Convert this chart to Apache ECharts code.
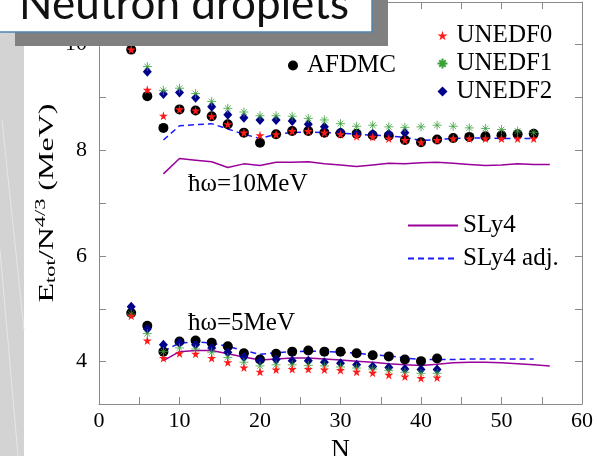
<!DOCTYPE html>
<html><head><meta charset="utf-8">
<script src="https://cdn.jsdelivr.net/npm/echarts@6.0.0/dist/echarts.min.js"></script>
<style>html,body{margin:0;padding:0;background:#fff;}#c{width:597px;height:456px;}</style>
</head><body><div id="c"></div>
<script>
// ---- data ----
const nUp = [4,6,8,10,12,14,16,18,20,22,24,26,28,30,32,34,36,38,40,42,44,46,48,50,52,54];
const afdmcUp  = [9.90,9.02,8.42,8.77,8.75,8.64,8.49,8.33,8.14,8.30,8.36,8.36,8.33,8.32,8.31,8.28,8.27,8.19,8.15,8.20,8.23,8.25,8.26,8.28,8.30,8.31];
const unedf0Up = [9.90,9.14,8.65,8.77,8.75,8.64,8.49,8.33,8.28,8.30,8.36,8.36,8.33,8.30,8.26,8.25,8.22,8.19,8.15,8.19,8.22,8.22,8.22,8.22,8.22,8.22];
const unedf1Up = [null,9.58,9.13,9.17,9.07,8.92,8.79,8.72,8.65,8.65,8.64,8.60,8.57,8.50,8.45,8.47,8.44,8.43,8.44,8.47,8.45,8.42,8.41,8.39,8.36,8.33];
const unedf2Up = [null,9.48,9.06,9.09,8.99,8.82,8.67,8.61,8.57,8.57,8.55,8.49,8.44,8.34,8.31,8.31,8.31,8.33,null,null,null,null,null,null,null,null];

const nLow = [4,6,8,10,12,14,16,18,20,22,24,26,28,30,32,34,36,38,40,42];
const afdmcLow  = [4.92,4.68,4.19,4.38,4.40,4.36,4.29,4.16,4.04,4.15,4.19,4.21,4.19,4.19,4.16,4.12,4.10,4.04,4.01,4.06];
const unedf0Low = [4.87,4.40,4.07,4.16,4.15,4.07,3.99,3.89,3.81,3.85,3.86,3.86,3.85,3.84,3.81,3.79,3.75,3.72,3.69,3.70];
const unedf1Low = [4.90,4.53,4.19,4.26,4.24,4.18,4.08,3.99,3.92,3.94,3.94,3.93,3.92,3.90,3.88,3.86,3.83,3.80,3.78,3.78];
const unedf2Low = [5.04,4.62,4.32,4.36,4.32,4.26,4.18,4.09,4.02,4.04,4.02,4.02,3.99,3.97,3.94,3.91,3.89,3.86,3.85,3.85];

const nSly = [8,10,12,14,16,18,20,22,24,26,28,30,32,34,36,38,40,42,44,46,48,50,52,54,56];
const sly4Up  = [7.55,7.84,7.81,7.78,7.67,7.74,7.71,7.77,7.77,7.78,7.74,7.72,7.69,7.72,7.75,7.74,7.76,7.77,7.75,7.73,7.71,7.72,7.74,7.73,7.73];
const sly4Low = [4.02,4.19,4.21,4.21,4.15,4.09,4.03,4.05,4.07,4.07,4.05,4.03,4.01,3.99,3.96,3.94,3.93,3.95,3.98,3.99,3.99,3.98,3.96,3.94,3.92];
const nAdj = [8,10,12,14,16,18,20,22,24,26,28,30,32,34,36,38,40,42,44,46,48,50,52,54];
const adjUp  = [8.19,8.46,8.48,8.50,8.40,8.30,8.22,8.30,8.33,8.34,8.33,8.32,8.30,8.28,8.27,8.24,8.18,8.20,8.22,8.23,8.23,8.22,8.22,8.22];
const adjLow = [4.20,4.35,4.38,4.35,4.29,4.21,4.14,4.17,4.19,4.20,4.19,4.18,4.16,4.13,4.11,4.07,4.04,4.04,4.04,4.05,4.05,4.05,4.05,4.05];

const yLabels = [4,6,8,10];
const yTickVals = [4,5,6,7,8,9,10];

// ---- helpers ----
function pairs(xs, ys){ const o=[]; for(let i=0;i<xs.length;i++){ if(ys[i]!=null) o.push([xs[i], ys[i]]); } return o; }
const SERIF = 'Liberation Serif';
const STAR = 'path://M50,0 L61,35 L98,35 L68,57 L79,91 L50,70 L21,91 L32,57 L2,35 L39,35 Z';
const ASTER = 'path://M0,50 L100,50 M50,0 L50,100 M18,18 L82,82 M18,82 L82,18';
const GRID_COL = '#8a8a8a';

function scatter(name, data, symbol, size, style, z){
  return {type:'scatter', name, data, symbol, symbolSize:size, itemStyle:Object.assign({opacity:1}, style), z, animation:false};
}
function line(name, data, color, type, z){
  return {type:'line', name, data, symbol:'none', showSymbol:false, lineStyle:{color, width:1.5, type}, itemStyle:{color}, z, animation:false};
}

const circleStyle = {color:'#000'};
const diaStyle = {color:'#00008b'};
const starStyle = {color:'#ff1a1a'};
const asterStyle = {color:'none', borderColor:'#3aa03a', borderWidth:0.8};

const series = [
  line('SLy4', pairs(nSly, sly4Up), '#990099', 'solid', 1),
  line('SLy4', pairs(nSly, sly4Low), '#990099', 'solid', 1),
  line('SLy4 adj.', pairs(nAdj, adjUp), '#1a1aff', [6,4], 1),
  line('SLy4 adj.', pairs(nAdj, adjLow), '#1a1aff', [6,4], 1),
  scatter('AFDMC', pairs(nUp, afdmcUp), 'circle', 10, circleStyle, 2),
  scatter('AFDMC', pairs(nLow, afdmcLow), 'circle', 10, circleStyle, 2),
  scatter('UNEDF2', pairs(nUp, unedf2Up), 'diamond', [9,10], diaStyle, 3),
  scatter('UNEDF2', pairs(nLow, unedf2Low), 'diamond', [9,10], diaStyle, 3),
  scatter('UNEDF1', pairs(nUp, unedf1Up), ASTER, 9, asterStyle, 4),
  scatter('UNEDF1', pairs(nLow, unedf1Low), ASTER, 9, asterStyle, 4),
  scatter('UNEDF0', pairs(nUp, unedf0Up), STAR, 9, starStyle, 5),
  scatter('UNEDF0', pairs(nLow, unedf0Low), STAR, 9, starStyle, 5)
];

const axisCommon = {
  axisLine:{show:true, onZero:false, lineStyle:{color:GRID_COL, width:1}},
  axisTick:{show:true, inside:true, length:7, lineStyle:{color:GRID_COL}},
  splitLine:{show:false}
};

const legText = {fontFamily:SERIF, fontSize:25, color:'#000', padding:[0,0,0,4]};
const labelStyle = {fontFamily:SERIF, fontSize:22, color:'#000'};

const option = {
  animation:false,
  backgroundColor:'#fff',
  textStyle:{fontFamily:SERIF},
  grid:{left:99, right:15, top:2, bottom:52, containLabel:false, outerBoundsMode:'none'},
  xAxis:[
    Object.assign({type:'value', min:0, max:60, interval:10, position:'bottom',
      name:'N', nameLocation:'middle', nameGap:20,
      nameTextStyle:{fontFamily:SERIF, fontSize:26, color:'#000'},
      minorTick:{show:true, splitNumber:2, length:7, lineStyle:{color:GRID_COL}},
      axisLabel:Object.assign({margin:6}, labelStyle)}, axisCommon),
    Object.assign({type:'value', min:0, max:60, interval:10, position:'top',
      minorTick:{show:true, splitNumber:2, length:7, lineStyle:{color:GRID_COL}},
      axisLabel:{show:false}}, axisCommon)
  ],
  yAxis:[
    Object.assign({type:'value', min:3.2, max:10.8, position:'left',
      axisLabel:Object.assign({margin:12, customValues: yLabels}, labelStyle)},
      axisCommon, {axisTick:{show:true, inside:true, length:7, lineStyle:{color:GRID_COL}, customValues: yTickVals}}),
    Object.assign({type:'value', min:3.2, max:10.8, position:'right',
      axisLabel:{show:false, customValues: yLabels}},
      axisCommon, {axisTick:{show:true, inside:true, length:7, lineStyle:{color:GRID_COL}, customValues: yTickVals}})
  ],
  legend:[
    {data:['AFDMC'], left:283, top:48, itemWidth:10, itemHeight:10, textStyle:legText, selectedMode:false},
    {data:['UNEDF0','UNEDF1','UNEDF2'], orient:'vertical', left:430, top:18, itemGap:3, itemWidth:10, itemHeight:10, textStyle:legText, selectedMode:false},
    {data:['SLy4','SLy4 adj.'], orient:'vertical', left:402, top:208, itemGap:8, itemWidth:50, itemHeight:14,
      itemStyle:{opacity:0}, textStyle:Object.assign({}, legText, {padding:[0,0,0,0]}), selectedMode:false}
  ],
  series,
  graphic:[
    // left slide strip
    {type:'rect', left:0, top:0, shape:{width:24, height:456}, style:{fill:'#d3d3d3'}, z:-10, silent:true},
    {type:'line', shape:{x1:2, y1:120, x2:24, y2:330}, style:{stroke:'#e6e6e6', lineWidth:1}, z:-9, silent:true},
    {type:'line', shape:{x1:0, y1:250, x2:18, y2:456}, style:{stroke:'#e6e6e6', lineWidth:1}, z:-9, silent:true},
    // title box with shadow
    {type:'rect', shape:{x:15, y:-20, width:373, height:66}, style:{fill:'#808080'}, z:100, silent:true},
    {type:'rect', shape:{x:-2, y:-20, width:374, height:52}, style:{fill:'#fff', stroke:'#4f86b0', lineWidth:1.5}, z:101, silent:true},
    {type:'text', x:19, y:27, style:{text:'Neutron droplets', fontFamily:'Lato', fontSize:44, fill:'#111', verticalAlign:'bottom'}, z:102, silent:true},
    // y-axis title
    {type:'text', x:46, y:203, rotation:Math.PI/2, scaleX:1.6, scaleY:1,
      style:{text:'{m|E}{s|tot}{m|/N}{p|4/3}{m| (MeV)}', align:'center', verticalAlign:'middle',
        rich:{m:{fontFamily:SERIF, fontSize:20, fill:'#000', verticalAlign:'bottom', lineHeight:24},
              s:{fontFamily:SERIF, fontSize:14, fill:'#000', verticalAlign:'bottom', lineHeight:18},
              p:{fontFamily:SERIF, fontSize:14, fill:'#000', verticalAlign:'top', lineHeight:14}}}, z:50, silent:true},
    // annotations
    {type:'text', x:188, y:184, style:{text:'ħω=10MeV', fontFamily:SERIF, fontSize:25, fill:'#000', verticalAlign:'middle'}, z:50, silent:true},
    {type:'text', x:188, y:323, style:{text:'ħω=5MeV', fontFamily:SERIF, fontSize:25, fill:'#000', verticalAlign:'middle'}, z:50, silent:true}
  ]
};

const chart = echarts.init(document.getElementById('c'), null, {renderer:'canvas'});
chart.setOption(option);
</script></body></html>
